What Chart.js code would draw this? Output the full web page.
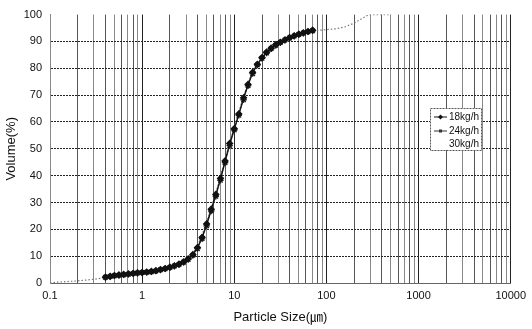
<!DOCTYPE html>
<html><head><meta charset="utf-8">
<script src="https://cdn.jsdelivr.net/npm/chart.js@4"></script>
<style>html,body{margin:0;padding:0;background:#fff}#wrap{width:532px;height:329px}</style>
</head><body><div id="wrap"><canvas id="c" width="532" height="329"></canvas></div>
<script>
// Particle sizes (µm) for the two marked series
const sizesA = [0.40,0.45,0.50,0.56,0.63,0.71,0.80,0.89,1.00,1.12,1.26,1.41,1.58,1.78,2.00,2.24,2.51,2.82,3.16,3.55,3.98,4.47,5.01,5.62,6.31,7.08,7.94,8.91,10.0,11.2,12.6,14.1,15.8,17.8,20.0,22.4,25.1,28.2,31.6,35.5,39.8,44.7,50.1,56.2,63.1,70.8];
const vol18 = [2.2,2.5,2.8,3.0,3.2,3.4,3.6,3.8,3.9,4.1,4.3,4.6,5.0,5.4,5.9,6.4,7.0,7.9,9.0,10.6,13.2,17.0,22.0,27.5,33.0,39.0,45.5,52.0,57.5,63.0,69.0,74.0,78.5,81.5,84.0,86.0,87.5,88.8,89.7,90.6,91.4,92.1,92.7,93.2,93.7,94.2];
const vol24 = [2.1,2.4,2.7,2.9,3.1,3.3,3.5,3.7,3.9,4.0,4.2,4.5,4.9,5.3,5.8,6.3,6.9,7.7,8.8,10.3,12.8,16.5,21.3,26.8,32.3,38.3,44.8,51.2,57.0,62.5,68.3,73.5,78.0,81.2,83.7,85.7,87.3,88.6,89.6,90.5,91.3,92.0,92.6,93.1,93.6,94.0];
// Sizes (µm) and values for the 30 kg/h series (dotted, no markers)
const sizes30 = [0.10,0.12,0.15,0.20,0.25,0.30,0.35,0.40,0.50,0.63,0.80,1.00,1.26,1.58,2.00,2.51,3.16,3.98,5.01,6.31,7.94,10.0,12.6,15.8,20.0,25.1,31.6,39.8,50.1,63.1,79.4,100,126,158,200,251,282,316,398,501];
const vol30 = [0.0,0.3,0.5,0.8,1.1,1.4,1.7,2.0,2.6,3.1,3.6,4.0,4.4,5.1,6.0,7.1,9.2,13.5,22.5,33.5,46.0,58.0,69.5,79.0,84.3,87.7,90.0,91.6,92.8,93.7,94.1,94.4,94.7,95.4,96.8,98.8,99.8,100,100,100];
const seriesLabels = ['18kg/h','24kg/h','30kg/h'];
const xTickLabels = [0.1,1,10,100,1000,10000];
const yTicks = [0,10,20,30,40,50,60,70,80,90,100];

const pts = (xs, ys) => xs.map((x,i)=>({x:x,y:ys[i]}));

const FONT = "Arial, 'Liberation Sans', 'Noto Sans CJK KR', sans-serif";

const legendPlugin = {
  id:'boxLegend',
  afterDraw(chart){
    const ctx = chart.ctx;
    const x0=430, y0=108, w=51, h=42;
    ctx.save();
    ctx.fillStyle='#fff'; ctx.fillRect(x0,y0,w,h);
    ctx.strokeStyle='#555'; ctx.lineWidth=1; ctx.setLineDash([2,1]);
    ctx.strokeRect(x0+0.5,y0+0.5,w,h);
    ctx.setLineDash([]);
    ctx.font = "10px "+FONT; ctx.fillStyle='#111'; ctx.textBaseline='middle'; ctx.textAlign='right';
    const rows=[117,131,144];
    chart.data.datasets.forEach((ds,i)=>{
      const y=rows[i];
      if(i<2){
        ctx.strokeStyle=ds.borderColor; ctx.lineWidth=1;
        ctx.beginPath(); ctx.moveTo(x0+4,y); ctx.lineTo(x0+17,y); ctx.stroke();
        ctx.fillStyle=ds.pointBackgroundColor;
        ctx.beginPath();
        if(i===0){ctx.moveTo(x0+10.5,y-2.5);ctx.lineTo(x0+13,y);ctx.lineTo(x0+10.5,y+2.5);ctx.lineTo(x0+8,y);}
        else {ctx.rect(x0+9,y-1.5,3,3);}
        ctx.fill();
      }
      ctx.fillStyle='#111';
      ctx.fillText(ds.label, x0+w-2, y);
    });
    ctx.restore();
  }
};

new Chart(document.getElementById('c'),{
  type:'scatter',
  data:{datasets:[
    {label:seriesLabels[0], data:pts(sizesA,vol18), showLine:true, borderColor:'#111', borderWidth:1.2,
     pointStyle:'rectRot', pointRadius:3, pointBackgroundColor:'#111', pointBorderColor:'#111', order:1},
    {label:seriesLabels[1], data:pts(sizesA,vol24), showLine:true, borderColor:'#333', borderWidth:1,
     pointStyle:'star', pointRadius:3.2, pointBackgroundColor:'#333', pointBorderColor:'#222', pointBorderWidth:1.4, order:2},
    {label:seriesLabels[2], data:pts(sizes30,vol30), showLine:true, borderColor:'#777', borderWidth:1.2,
     borderDash:[1.5,2], pointRadius:0, order:3}
  ]},
  options:{
    responsive:false, animation:false, devicePixelRatio:1,
    layout:{padding:{top:10,right:14,left:0,bottom:0}},
    plugins:{legend:{display:false}, tooltip:{enabled:false}},
    scales:{
      x:{type:'logarithmic', min:0.1, max:10000,
        afterBuildTicks(s){
          const t=[];
          xTickLabels.forEach((d,i)=>{ for(let m=1;m<=9;m++){ if(i===xTickLabels.length-1 && m>1) break; t.push({value:d*m}); } });
          s.ticks=t;
        },
        afterFit(s){ s.height=46; },
        ticks:{autoSkip:false, maxRotation:0, padding:6, color:'#111', font:{family:FONT,size:11},
          callback(v){ return xTickLabels.includes(+v.toPrecision(6)) ? String(+v.toPrecision(6)) : ''; }},
        grid:{color(c){ const v=c.tick?c.tick.value:1; const m=Math.round(v/Math.pow(10,Math.floor(Math.log10(v)+1e-9))); return (m===1)?'#222':(m%2===0?'#555':'#888'); }, lineWidth:1, drawTicks:false},
        border:{color:'#666'},
        title:{display:true, text:'Particle Size(㎛)', color:'#111', font:{family:FONT,size:13}, padding:{top:3}}
      },
      y:{min:0, max:100,
        afterBuildTicks(s){ s.ticks=yTicks.map(v=>({value:v})); },
        afterFit(s){ s.width=50; },
        ticks:{color:'#111', padding:8, font:{family:FONT,size:11}},
        grid:{color(c){ return (c.tick && (c.tick.value===100))?'rgba(0,0,0,0)':'#222'; }, lineWidth:1, drawTicks:false},
        border:{color:'#888', dash:[2,1]},
        title:{display:true, text:'Volume(%)', color:'#111', font:{family:FONT,size:13}, padding:{bottom:2}}
      }
    }
  },
  plugins:[legendPlugin]
});
</script>
</body></html>
